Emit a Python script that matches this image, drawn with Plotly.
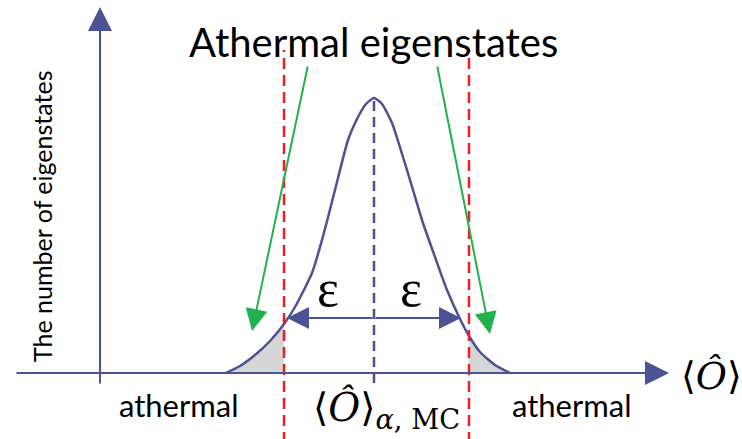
import plotly.graph_objects as go

# Distribution curve (x position, number of eigenstates)
curve_x = [226, 240, 255, 270, 284, 295, 312, 322, 335, 348, 356, 366, 374, 382, 392, 403, 413, 423, 435, 447, 461, 469, 480, 495, 510]
curve_y = [0, 7, 18, 32, 49, 66, 100, 133, 183, 233, 252, 269, 275, 269, 250, 216, 183, 150, 116, 83, 52, 37, 21, 8, 0]

center_x = 374
cut_left = 284
cut_right = 469

BLUE = "#4b5394"
RED = "#f01e1e"
GREEN = "#22b14c"
GRAY = "#d6d6d6"

fig = go.Figure()

# shaded athermal tails
lx = [x for x in curve_x if x <= cut_left]
ly = [y for x, y in zip(curve_x, curve_y) if x <= cut_left]
fig.add_trace(go.Scatter(x=lx + [cut_left, lx[0]], y=ly + [0, 0], fill="toself",
                         fillcolor=GRAY, line=dict(width=0), mode="lines", hoverinfo="skip"))
rx = [x for x in curve_x if x >= cut_right]
ry = [y for x, y in zip(curve_x, curve_y) if x >= cut_right]
fig.add_trace(go.Scatter(x=[cut_right] + rx + [cut_right], y=[0] + ry + [0], fill="toself",
                         fillcolor=GRAY, line=dict(width=0), mode="lines", hoverinfo="skip"))

# curve
fig.add_trace(go.Scatter(x=curve_x, y=curve_y, mode="lines",
                         line=dict(color=BLUE, width=2.5, shape="spline", smoothing=0.6),
                         hoverinfo="skip"))

shapes = []
# center dashed line
shapes.append(dict(type="line", x0=center_x, x1=center_x, y0=-10, y1=max(curve_y),
                   line=dict(color=BLUE, width=2.5, dash="10px,6px")))
# red dashed cut lines
for cx in (cut_left, cut_right):
    shapes.append(dict(type="line", x0=cx, x1=cx, y0=-70, y1=323,
                       line=dict(color=RED, width=2.5, dash="11px,6px")))

annotations = []
def arrow(x, y, ax, ay, color, size):
    annotations.append(dict(x=x, y=y, ax=ax, ay=ay, xref="x", yref="y", axref="x", ayref="y",
                            showarrow=True, arrowhead=2, arrowsize=size, arrowwidth=2,
                            arrowcolor=color, text="", standoff=0, startstandoff=0))

# axes with arrows
arrow(669, 0, 15, 0, BLUE, 2.4)
arrow(100, 366, 100, -12, BLUE, 2.4)
# epsilon arrows
arrow(287, 55, center_x, 55, BLUE, 2.2)
arrow(461, 55, center_x, 55, BLUE, 2.2)
# green arrows
arrow(252, 42, 308, 308, GREEN, 2.2)
arrow(490, 39, 437, 308, GREEN, 2.2)

# texts
SANS = "Lato, 'Open Sans', sans-serif"
SERIF = "'DejaVu Serif', 'Liberation Serif', serif"
def label(x, y, text, size, family=SANS, angle=0):
    annotations.append(dict(x=x, y=y, xref="x", yref="y", text=text, showarrow=False,
                            textangle=angle, font=dict(family=family, size=size, color="black")))

label(373, 331, "Athermal eigenstates", 40)
label(42, 156, "The number of eigenstates", 25, angle=-90)
label(179, -32, "athermal", 31)
label(572, -32, "athermal", 31)
label(328, 85, "ε", 52, family="'Liberation Serif', serif")
label(411, 85, "ε", 52, family="'Liberation Serif', serif")
label(711, -3, "⟨<i>O\u0302</i>⟩", 38, family=SERIF)
label(386, -36, "⟨<i>O\u0302</i>⟩<sub><i>α</i>, MC</sub>", 39, family=SERIF)

fig.update_layout(
    width=742, height=439, margin=dict(l=0, r=0, t=0, b=0),
    paper_bgcolor="white", plot_bgcolor="white", showlegend=False,
    xaxis=dict(range=[0, 742], visible=False, fixedrange=True),
    yaxis=dict(range=[-66, 373], visible=False, fixedrange=True),
    shapes=shapes, annotations=annotations,
)

fig.write_html("out.html")
